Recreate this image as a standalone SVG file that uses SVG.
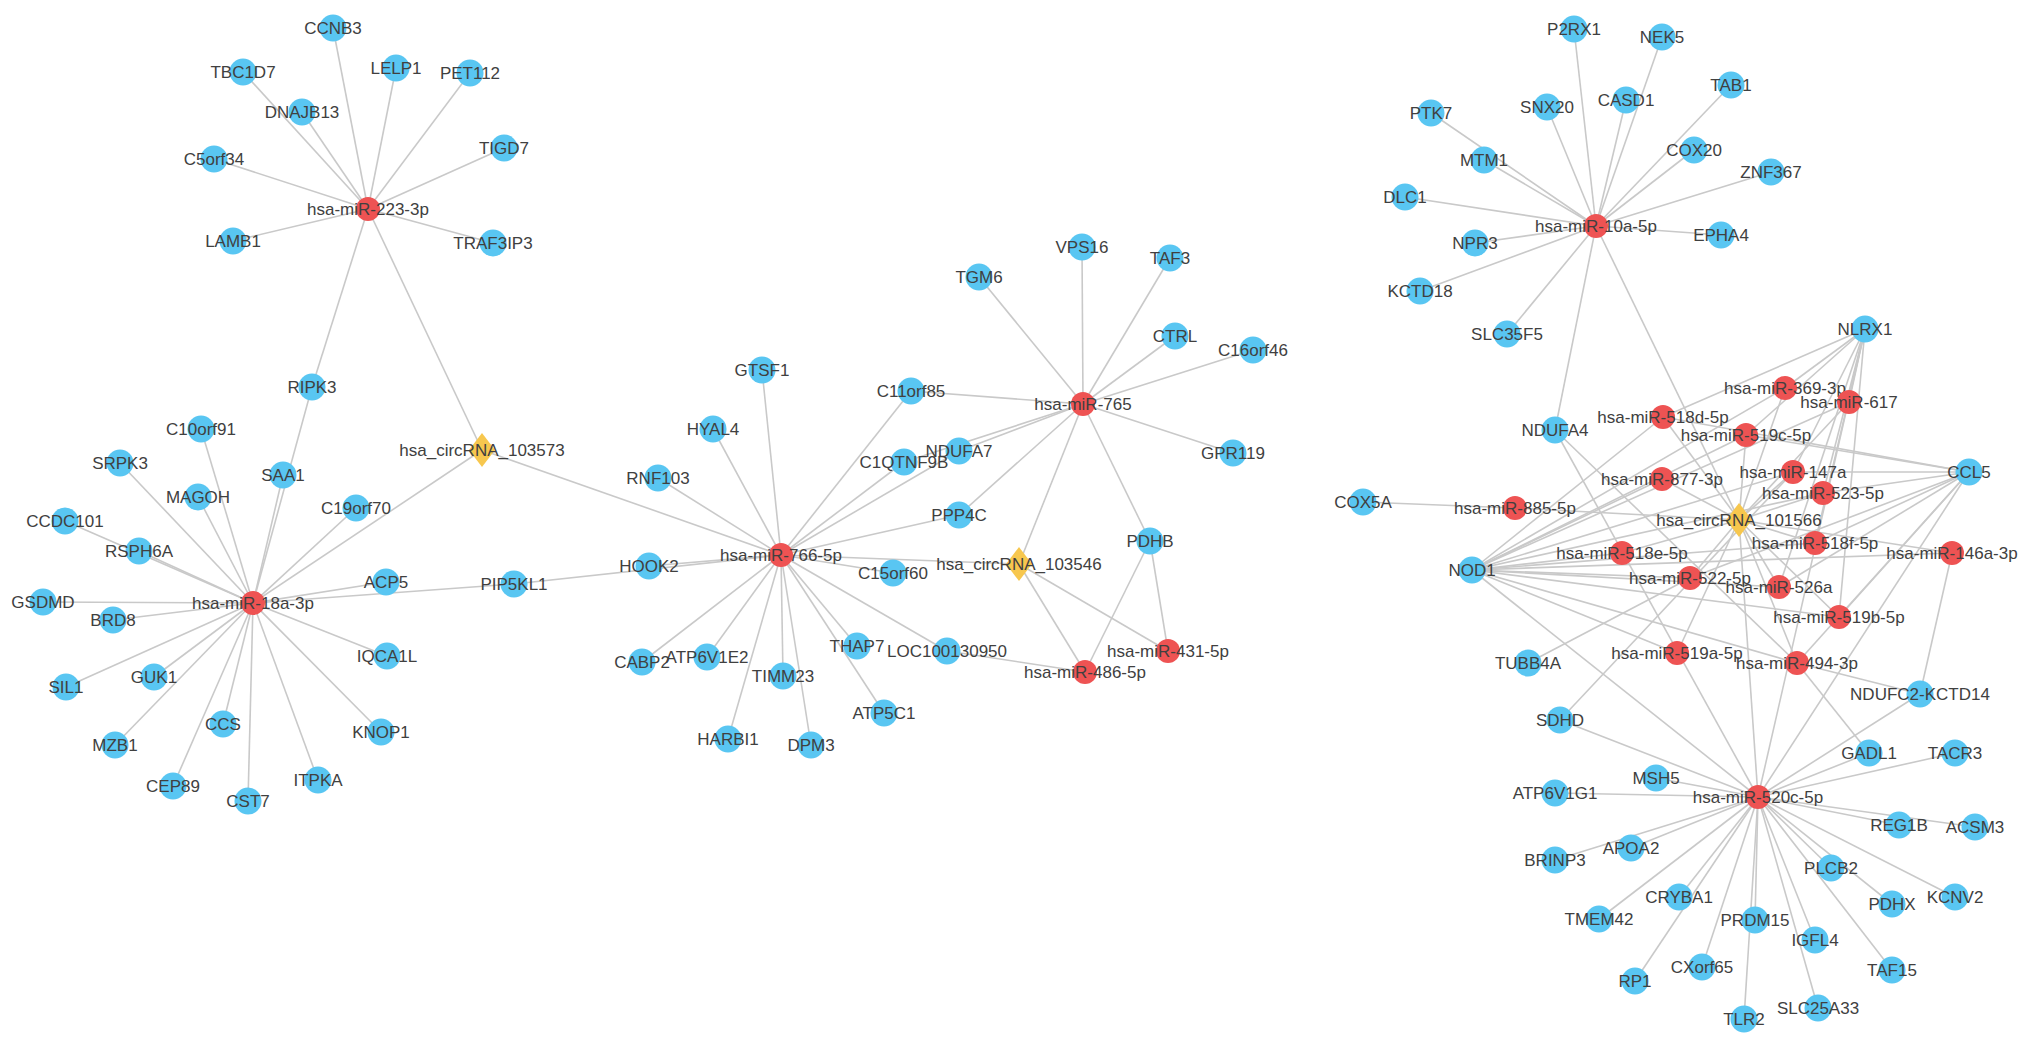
<svg xmlns="http://www.w3.org/2000/svg" xmlns:xlink="http://www.w3.org/1999/xlink" width="2032" height="1048" viewBox="0 0 2032 1048">
<style>
.e line{stroke:#c9c9c9;stroke-width:1.6}
.g{fill:#59c6f2}
.m{fill:#ee5353}
.c{fill:#f7c74e}
text{font-family:"Liberation Sans",Arial,sans-serif;font-size:17px;fill:#404040;text-anchor:middle;dominant-baseline:central}
</style>
<defs><path id="dia" d="M0,-17L13,0L0,17L-13,0Z"/></defs>
<rect width="2032" height="1048" fill="#ffffff"/>
<g id="connectors" class="e">
<!-- miR-223-3p -->
<line x1="368" y1="209" x2="333" y2="28"/>
<line x1="368" y1="209" x2="243" y2="72"/>
<line x1="368" y1="209" x2="396" y2="68"/>
<line x1="368" y1="209" x2="470" y2="73"/>
<line x1="368" y1="209" x2="302" y2="112"/>
<line x1="368" y1="209" x2="504" y2="148"/>
<line x1="368" y1="209" x2="214" y2="159"/>
<line x1="368" y1="209" x2="233" y2="241"/>
<line x1="368" y1="209" x2="493" y2="243"/>
<line x1="368" y1="209" x2="312" y2="387"/>
<line x1="368" y1="209" x2="482" y2="450"/>
<!-- miR-18a-3p -->
<line x1="253" y1="603" x2="312" y2="387"/>
<line x1="253" y1="603" x2="201" y2="429"/>
<line x1="253" y1="603" x2="120" y2="463"/>
<line x1="253" y1="603" x2="283" y2="475"/>
<line x1="253" y1="603" x2="198" y2="497"/>
<line x1="253" y1="603" x2="356" y2="508"/>
<line x1="253" y1="603" x2="65" y2="521"/>
<line x1="253" y1="603" x2="139" y2="551"/>
<line x1="253" y1="603" x2="43" y2="602"/>
<line x1="253" y1="603" x2="113" y2="620"/>
<line x1="253" y1="603" x2="66" y2="687"/>
<line x1="253" y1="603" x2="154" y2="677"/>
<line x1="253" y1="603" x2="115" y2="745"/>
<line x1="253" y1="603" x2="223" y2="724"/>
<line x1="253" y1="603" x2="173" y2="786"/>
<line x1="253" y1="603" x2="248" y2="801"/>
<line x1="253" y1="603" x2="318" y2="780"/>
<line x1="253" y1="603" x2="381" y2="732"/>
<line x1="253" y1="603" x2="387" y2="656"/>
<line x1="253" y1="603" x2="386" y2="582"/>
<line x1="253" y1="603" x2="514" y2="584"/>
<line x1="253" y1="603" x2="482" y2="450"/>
<!-- miR-766-5p -->
<line x1="781" y1="555" x2="482" y2="450"/>
<line x1="781" y1="555" x2="514" y2="584"/>
<line x1="781" y1="555" x2="649" y2="566"/>
<line x1="781" y1="555" x2="658" y2="478"/>
<line x1="781" y1="555" x2="713" y2="429"/>
<line x1="781" y1="555" x2="762" y2="370"/>
<line x1="781" y1="555" x2="911" y2="391"/>
<line x1="781" y1="555" x2="904" y2="462"/>
<line x1="781" y1="555" x2="959" y2="451"/>
<line x1="781" y1="555" x2="959" y2="515"/>
<line x1="781" y1="555" x2="893" y2="573"/>
<line x1="781" y1="555" x2="1019" y2="564"/>
<line x1="781" y1="555" x2="947" y2="651"/>
<line x1="781" y1="555" x2="857" y2="646"/>
<line x1="781" y1="555" x2="884" y2="713"/>
<line x1="781" y1="555" x2="811" y2="745"/>
<line x1="781" y1="555" x2="783" y2="676"/>
<line x1="781" y1="555" x2="728" y2="739"/>
<line x1="781" y1="555" x2="707" y2="657"/>
<line x1="781" y1="555" x2="642" y2="662"/>
<!-- miR-765 -->
<line x1="1083" y1="404" x2="979" y2="277"/>
<line x1="1083" y1="404" x2="1082" y2="247"/>
<line x1="1083" y1="404" x2="1170" y2="258"/>
<line x1="1083" y1="404" x2="1175" y2="336"/>
<line x1="1083" y1="404" x2="1253" y2="350"/>
<line x1="1083" y1="404" x2="1233" y2="453"/>
<line x1="1083" y1="404" x2="1150" y2="541"/>
<line x1="1083" y1="404" x2="1019" y2="564"/>
<line x1="1083" y1="404" x2="959" y2="515"/>
<line x1="1083" y1="404" x2="959" y2="451"/>
<line x1="1083" y1="404" x2="904" y2="462"/>
<line x1="1083" y1="404" x2="911" y2="391"/>
<!-- miR-486-5p / miR-431-5p -->
<line x1="1085" y1="672" x2="947" y2="651"/>
<line x1="1085" y1="672" x2="1019" y2="564"/>
<line x1="1085" y1="672" x2="1150" y2="541"/>
<line x1="1168" y1="651" x2="1019" y2="564"/>
<line x1="1168" y1="651" x2="1150" y2="541"/>
<!-- miR-10a-5p -->
<line x1="1596" y1="226" x2="1574" y2="29"/>
<line x1="1596" y1="226" x2="1662" y2="37"/>
<line x1="1596" y1="226" x2="1731" y2="85"/>
<line x1="1596" y1="226" x2="1431" y2="113"/>
<line x1="1596" y1="226" x2="1547" y2="107"/>
<line x1="1596" y1="226" x2="1626" y2="100"/>
<line x1="1596" y1="226" x2="1484" y2="160"/>
<line x1="1596" y1="226" x2="1694" y2="150"/>
<line x1="1596" y1="226" x2="1771" y2="172"/>
<line x1="1596" y1="226" x2="1405" y2="197"/>
<line x1="1596" y1="226" x2="1721" y2="235"/>
<line x1="1596" y1="226" x2="1475" y2="243"/>
<line x1="1596" y1="226" x2="1420" y2="291"/>
<line x1="1596" y1="226" x2="1507" y2="334"/>
<line x1="1596" y1="226" x2="1555" y2="430"/>
<line x1="1596" y1="226" x2="1739" y2="520"/>
<!-- hsa_circRNA_101566 -->
<line x1="1739" y1="520" x2="1785" y2="388"/>
<line x1="1739" y1="520" x2="1849" y2="402"/>
<line x1="1739" y1="520" x2="1663" y2="417"/>
<line x1="1739" y1="520" x2="1746" y2="435"/>
<line x1="1739" y1="520" x2="1793" y2="472"/>
<line x1="1739" y1="520" x2="1662" y2="479"/>
<line x1="1739" y1="520" x2="1823" y2="493"/>
<line x1="1739" y1="520" x2="1515" y2="508"/>
<line x1="1739" y1="520" x2="1815" y2="543"/>
<line x1="1739" y1="520" x2="1952" y2="553"/>
<line x1="1739" y1="520" x2="1622" y2="553"/>
<line x1="1739" y1="520" x2="1690" y2="578"/>
<line x1="1739" y1="520" x2="1779" y2="587"/>
<line x1="1739" y1="520" x2="1839" y2="617"/>
<line x1="1739" y1="520" x2="1677" y2="653"/>
<line x1="1739" y1="520" x2="1797" y2="663"/>
<line x1="1739" y1="520" x2="1758" y2="797"/>
<!-- NLRX1 -->
<line x1="1865" y1="329" x2="1663" y2="417"/>
<line x1="1865" y1="329" x2="1785" y2="388"/>
<line x1="1865" y1="329" x2="1849" y2="402"/>
<line x1="1865" y1="329" x2="1746" y2="435"/>
<line x1="1865" y1="329" x2="1793" y2="472"/>
<line x1="1865" y1="329" x2="1823" y2="493"/>
<line x1="1865" y1="329" x2="1815" y2="543"/>
<line x1="1865" y1="329" x2="1779" y2="587"/>
<line x1="1865" y1="329" x2="1839" y2="617"/>
<line x1="1865" y1="329" x2="1758" y2="797"/>
<!-- CCL5 -->
<line x1="1969" y1="472" x2="1663" y2="417"/>
<line x1="1969" y1="472" x2="1746" y2="435"/>
<line x1="1969" y1="472" x2="1793" y2="472"/>
<line x1="1969" y1="472" x2="1823" y2="493"/>
<line x1="1969" y1="472" x2="1815" y2="543"/>
<line x1="1969" y1="472" x2="1779" y2="587"/>
<line x1="1969" y1="472" x2="1690" y2="578"/>
<line x1="1969" y1="472" x2="1839" y2="617"/>
<line x1="1969" y1="472" x2="1797" y2="663"/>
<line x1="1969" y1="472" x2="1758" y2="797"/>
<!-- NOD1 -->
<line x1="1472" y1="570" x2="1663" y2="417"/>
<line x1="1472" y1="570" x2="1785" y2="388"/>
<line x1="1472" y1="570" x2="1746" y2="435"/>
<line x1="1472" y1="570" x2="1662" y2="479"/>
<line x1="1472" y1="570" x2="1849" y2="402"/>
<line x1="1472" y1="570" x2="1793" y2="472"/>
<line x1="1472" y1="570" x2="1823" y2="493"/>
<line x1="1472" y1="570" x2="1622" y2="553"/>
<line x1="1472" y1="570" x2="1815" y2="543"/>
<line x1="1472" y1="570" x2="1690" y2="578"/>
<line x1="1472" y1="570" x2="1779" y2="587"/>
<line x1="1472" y1="570" x2="1839" y2="617"/>
<line x1="1472" y1="570" x2="1952" y2="553"/>
<line x1="1472" y1="570" x2="1677" y2="653"/>
<line x1="1472" y1="570" x2="1797" y2="663"/>
<line x1="1472" y1="570" x2="1758" y2="797"/>
<!-- other genes in right cluster -->
<line x1="1555" y1="430" x2="1797" y2="663"/>
<line x1="1555" y1="430" x2="1758" y2="797"/>
<line x1="1363" y1="502" x2="1515" y2="508"/>
<line x1="1528" y1="663" x2="1690" y2="578"/>
<line x1="1560" y1="720" x2="1793" y2="472"/>
<line x1="1560" y1="720" x2="1758" y2="797"/>
<line x1="1920" y1="694" x2="1952" y2="553"/>
<line x1="1920" y1="694" x2="1797" y2="663"/>
<line x1="1920" y1="694" x2="1758" y2="797"/>
<line x1="1869" y1="753" x2="1797" y2="663"/>
<!-- miR-520c-5p -->
<line x1="1758" y1="797" x2="1869" y2="753"/>
<line x1="1758" y1="797" x2="1955" y2="753"/>
<line x1="1758" y1="797" x2="1656" y2="778"/>
<line x1="1758" y1="797" x2="1555" y2="793"/>
<line x1="1758" y1="797" x2="1899" y2="825"/>
<line x1="1758" y1="797" x2="1975" y2="827"/>
<line x1="1758" y1="797" x2="1631" y2="848"/>
<line x1="1758" y1="797" x2="1555" y2="860"/>
<line x1="1758" y1="797" x2="1831" y2="868"/>
<line x1="1758" y1="797" x2="1679" y2="897"/>
<line x1="1758" y1="797" x2="1955" y2="897"/>
<line x1="1758" y1="797" x2="1892" y2="904"/>
<line x1="1758" y1="797" x2="1599" y2="919"/>
<line x1="1758" y1="797" x2="1755" y2="920"/>
<line x1="1758" y1="797" x2="1815" y2="940"/>
<line x1="1758" y1="797" x2="1892" y2="970"/>
<line x1="1758" y1="797" x2="1702" y2="967"/>
<line x1="1758" y1="797" x2="1635" y2="981"/>
<line x1="1758" y1="797" x2="1818" y2="1008"/>
<line x1="1758" y1="797" x2="1744" y2="1019"/>
</g>
<g id="nodes">
<!-- left top cluster -->
<g id="CCNB3"><circle class="g" cx="333" cy="28" r="13.5"/><text x="333" y="28">CCNB3</text></g>
<g id="TBC1D7"><circle class="g" cx="243" cy="72" r="13.5"/><text x="243" y="72">TBC1D7</text></g>
<g id="LELP1"><circle class="g" cx="396" cy="68" r="13.5"/><text x="396" y="68">LELP1</text></g>
<g id="PET112"><circle class="g" cx="470" cy="73" r="13.5"/><text x="470" y="73">PET112</text></g>
<g id="DNAJB13"><circle class="g" cx="302" cy="112" r="13.5"/><text x="302" y="112">DNAJB13</text></g>
<g id="TIGD7"><circle class="g" cx="504" cy="148" r="13.5"/><text x="504" y="148">TIGD7</text></g>
<g id="C5orf34"><circle class="g" cx="214" cy="159" r="13.5"/><text x="214" y="159">C5orf34</text></g>
<g id="LAMB1"><circle class="g" cx="233" cy="241" r="13.5"/><text x="233" y="241">LAMB1</text></g>
<g id="TRAF3IP3"><circle class="g" cx="493" cy="243" r="13.5"/><text x="493" y="243">TRAF3IP3</text></g>
<g id="hsa-miR-223-3p"><circle class="m" cx="368" cy="209" r="12"/><text x="368" y="209">hsa-miR-223-3p</text></g>
<g id="RIPK3"><circle class="g" cx="312" cy="387" r="13.5"/><text x="312" y="387">RIPK3</text></g>
<!-- left bottom cluster -->
<g id="C10orf91"><circle class="g" cx="201" cy="429" r="13.5"/><text x="201" y="429">C10orf91</text></g>
<g id="SRPK3"><circle class="g" cx="120" cy="463" r="13.5"/><text x="120" y="463">SRPK3</text></g>
<g id="SAA1"><circle class="g" cx="283" cy="475" r="13.5"/><text x="283" y="475">SAA1</text></g>
<g id="MAGOH"><circle class="g" cx="198" cy="497" r="13.5"/><text x="198" y="497">MAGOH</text></g>
<g id="C19orf70"><circle class="g" cx="356" cy="508" r="13.5"/><text x="356" y="508">C19orf70</text></g>
<g id="CCDC101"><circle class="g" cx="65" cy="521" r="13.5"/><text x="65" y="521">CCDC101</text></g>
<g id="RSPH6A"><circle class="g" cx="139" cy="551" r="13.5"/><text x="139" y="551">RSPH6A</text></g>
<g id="ACP5"><circle class="g" cx="386" cy="582" r="13.5"/><text x="386" y="582">ACP5</text></g>
<g id="PIP5KL1"><circle class="g" cx="514" cy="584" r="13.5"/><text x="514" y="584">PIP5KL1</text></g>
<g id="GSDMD"><circle class="g" cx="43" cy="602" r="13.5"/><text x="43" y="602">GSDMD</text></g>
<g id="BRD8"><circle class="g" cx="113" cy="620" r="13.5"/><text x="113" y="620">BRD8</text></g>
<g id="IQCA1L"><circle class="g" cx="387" cy="656" r="13.5"/><text x="387" y="656">IQCA1L</text></g>
<g id="GUK1"><circle class="g" cx="154" cy="677" r="13.5"/><text x="154" y="677">GUK1</text></g>
<g id="SIL1"><circle class="g" cx="66" cy="687" r="13.5"/><text x="66" y="687">SIL1</text></g>
<g id="CCS"><circle class="g" cx="223" cy="724" r="13.5"/><text x="223" y="724">CCS</text></g>
<g id="KNOP1"><circle class="g" cx="381" cy="732" r="13.5"/><text x="381" y="732">KNOP1</text></g>
<g id="MZB1"><circle class="g" cx="115" cy="745" r="13.5"/><text x="115" y="745">MZB1</text></g>
<g id="CEP89"><circle class="g" cx="173" cy="786" r="13.5"/><text x="173" y="786">CEP89</text></g>
<g id="ITPKA"><circle class="g" cx="318" cy="780" r="13.5"/><text x="318" y="780">ITPKA</text></g>
<g id="CST7"><circle class="g" cx="248" cy="801" r="13.5"/><text x="248" y="801">CST7</text></g>
<g id="hsa-miR-18a-3p"><circle class="m" cx="253" cy="603" r="12"/><text x="253" y="603">hsa-miR-18a-3p</text></g>
<g id="hsa_circRNA_103573"><use xlink:href="#dia" class="c" x="482" y="450"/><text x="482" y="450">hsa_circRNA_103573</text></g>
<!-- middle cluster -->
<g id="GTSF1"><circle class="g" cx="762" cy="370" r="13.5"/><text x="762" y="370">GTSF1</text></g>
<g id="HYAL4"><circle class="g" cx="713" cy="429" r="13.5"/><text x="713" y="429">HYAL4</text></g>
<g id="RNF103"><circle class="g" cx="658" cy="478" r="13.5"/><text x="658" y="478">RNF103</text></g>
<g id="HOOK2"><circle class="g" cx="649" cy="566" r="13.5"/><text x="649" y="566">HOOK2</text></g>
<g id="C11orf85"><circle class="g" cx="911" cy="391" r="13.5"/><text x="911" y="391">C11orf85</text></g>
<g id="C1QTNF9B"><circle class="g" cx="904" cy="462" r="13.5"/><text x="904" y="462">C1QTNF9B</text></g>
<g id="NDUFA7"><circle class="g" cx="959" cy="451" r="13.5"/><text x="959" y="451">NDUFA7</text></g>
<g id="PPP4C"><circle class="g" cx="959" cy="515" r="13.5"/><text x="959" y="515">PPP4C</text></g>
<g id="C15orf60"><circle class="g" cx="893" cy="573" r="13.5"/><text x="893" y="573">C15orf60</text></g>
<g id="CABP2"><circle class="g" cx="642" cy="662" r="13.5"/><text x="642" y="662">CABP2</text></g>
<g id="ATP6V1E2"><circle class="g" cx="707" cy="657" r="13.5"/><text x="707" y="657">ATP6V1E2</text></g>
<g id="TIMM23"><circle class="g" cx="783" cy="676" r="13.5"/><text x="783" y="676">TIMM23</text></g>
<g id="THAP7"><circle class="g" cx="857" cy="646" r="13.5"/><text x="857" y="646">THAP7</text></g>
<g id="LOC100130950"><circle class="g" cx="947" cy="651" r="13.5"/><text x="947" y="651">LOC100130950</text></g>
<g id="ATP5C1"><circle class="g" cx="884" cy="713" r="13.5"/><text x="884" y="713">ATP5C1</text></g>
<g id="HARBI1"><circle class="g" cx="728" cy="739" r="13.5"/><text x="728" y="739">HARBI1</text></g>
<g id="DPM3"><circle class="g" cx="811" cy="745" r="13.5"/><text x="811" y="745">DPM3</text></g>
<g id="hsa-miR-766-5p"><circle class="m" cx="781" cy="555" r="12"/><text x="781" y="555">hsa-miR-766-5p</text></g>
<g id="TGM6"><circle class="g" cx="979" cy="277" r="13.5"/><text x="979" y="277">TGM6</text></g>
<g id="VPS16"><circle class="g" cx="1082" cy="247" r="13.5"/><text x="1082" y="247">VPS16</text></g>
<g id="TAF3"><circle class="g" cx="1170" cy="258" r="13.5"/><text x="1170" y="258">TAF3</text></g>
<g id="CTRL"><circle class="g" cx="1175" cy="336" r="13.5"/><text x="1175" y="336">CTRL</text></g>
<g id="C16orf46"><circle class="g" cx="1253" cy="350" r="13.5"/><text x="1253" y="350">C16orf46</text></g>
<g id="GPR119"><circle class="g" cx="1233" cy="453" r="13.5"/><text x="1233" y="453">GPR119</text></g>
<g id="PDHB"><circle class="g" cx="1150" cy="541" r="13.5"/><text x="1150" y="541">PDHB</text></g>
<g id="hsa-miR-765"><circle class="m" cx="1083" cy="404" r="12"/><text x="1083" y="404">hsa-miR-765</text></g>
<g id="hsa_circRNA_103546"><use xlink:href="#dia" class="c" x="1019" y="564"/><text x="1019" y="564">hsa_circRNA_103546</text></g>
<g id="hsa-miR-486-5p"><circle class="m" cx="1085" cy="672" r="12"/><text x="1085" y="672">hsa-miR-486-5p</text></g>
<g id="hsa-miR-431-5p"><circle class="m" cx="1168" cy="651" r="12"/><text x="1168" y="651">hsa-miR-431-5p</text></g>
<!-- top right cluster -->
<g id="P2RX1"><circle class="g" cx="1574" cy="29" r="13.5"/><text x="1574" y="29">P2RX1</text></g>
<g id="NEK5"><circle class="g" cx="1662" cy="37" r="13.5"/><text x="1662" y="37">NEK5</text></g>
<g id="TAB1"><circle class="g" cx="1731" cy="85" r="13.5"/><text x="1731" y="85">TAB1</text></g>
<g id="PTK7"><circle class="g" cx="1431" cy="113" r="13.5"/><text x="1431" y="113">PTK7</text></g>
<g id="SNX20"><circle class="g" cx="1547" cy="107" r="13.5"/><text x="1547" y="107">SNX20</text></g>
<g id="CASD1"><circle class="g" cx="1626" cy="100" r="13.5"/><text x="1626" y="100">CASD1</text></g>
<g id="MTM1"><circle class="g" cx="1484" cy="160" r="13.5"/><text x="1484" y="160">MTM1</text></g>
<g id="COX20"><circle class="g" cx="1694" cy="150" r="13.5"/><text x="1694" y="150">COX20</text></g>
<g id="ZNF367"><circle class="g" cx="1771" cy="172" r="13.5"/><text x="1771" y="172">ZNF367</text></g>
<g id="DLC1"><circle class="g" cx="1405" cy="197" r="13.5"/><text x="1405" y="197">DLC1</text></g>
<g id="EPHA4"><circle class="g" cx="1721" cy="235" r="13.5"/><text x="1721" y="235">EPHA4</text></g>
<g id="NPR3"><circle class="g" cx="1475" cy="243" r="13.5"/><text x="1475" y="243">NPR3</text></g>
<g id="KCTD18"><circle class="g" cx="1420" cy="291" r="13.5"/><text x="1420" y="291">KCTD18</text></g>
<g id="SLC35F5"><circle class="g" cx="1507" cy="334" r="13.5"/><text x="1507" y="334">SLC35F5</text></g>
<g id="hsa-miR-10a-5p"><circle class="m" cx="1596" cy="226" r="12"/><text x="1596" y="226">hsa-miR-10a-5p</text></g>
<!-- right dense cluster -->
<g id="NLRX1"><circle class="g" cx="1865" cy="329" r="13.5"/><text x="1865" y="329">NLRX1</text></g>
<g id="NDUFA4"><circle class="g" cx="1555" cy="430" r="13.5"/><text x="1555" y="430">NDUFA4</text></g>
<g id="CCL5"><circle class="g" cx="1969" cy="472" r="13.5"/><text x="1969" y="472">CCL5</text></g>
<g id="COX5A"><circle class="g" cx="1363" cy="502" r="13.5"/><text x="1363" y="502">COX5A</text></g>
<g id="NOD1"><circle class="g" cx="1472" cy="570" r="13.5"/><text x="1472" y="570">NOD1</text></g>
<g id="TUBB4A"><circle class="g" cx="1528" cy="663" r="13.5"/><text x="1528" y="663">TUBB4A</text></g>
<g id="NDUFC2-KCTD14"><circle class="g" cx="1920" cy="694" r="13.5"/><text x="1920" y="694">NDUFC2-KCTD14</text></g>
<g id="SDHD"><circle class="g" cx="1560" cy="720" r="13.5"/><text x="1560" y="720">SDHD</text></g>
<g id="hsa-miR-369-3p"><circle class="m" cx="1785" cy="388" r="12"/><text x="1785" y="388">hsa-miR-369-3p</text></g>
<g id="hsa-miR-617"><circle class="m" cx="1849" cy="402" r="12"/><text x="1849" y="402">hsa-miR-617</text></g>
<g id="hsa-miR-518d-5p"><circle class="m" cx="1663" cy="417" r="12"/><text x="1663" y="417">hsa-miR-518d-5p</text></g>
<g id="hsa-miR-519c-5p"><circle class="m" cx="1746" cy="435" r="12"/><text x="1746" y="435">hsa-miR-519c-5p</text></g>
<g id="hsa-miR-147a"><circle class="m" cx="1793" cy="472" r="12"/><text x="1793" y="472">hsa-miR-147a</text></g>
<g id="hsa-miR-877-3p"><circle class="m" cx="1662" cy="479" r="12"/><text x="1662" y="479">hsa-miR-877-3p</text></g>
<g id="hsa-miR-523-5p"><circle class="m" cx="1823" cy="493" r="12"/><text x="1823" y="493">hsa-miR-523-5p</text></g>
<g id="hsa-miR-885-5p"><circle class="m" cx="1515" cy="508" r="12"/><text x="1515" y="508">hsa-miR-885-5p</text></g>
<g id="hsa_circRNA_101566"><use xlink:href="#dia" class="c" x="1739" y="520"/><text x="1739" y="520">hsa_circRNA_101566</text></g>
<g id="hsa-miR-518f-5p"><circle class="m" cx="1815" cy="543" r="12"/><text x="1815" y="543">hsa-miR-518f-5p</text></g>
<g id="hsa-miR-146a-3p"><circle class="m" cx="1952" cy="553" r="12"/><text x="1952" y="553">hsa-miR-146a-3p</text></g>
<g id="hsa-miR-518e-5p"><circle class="m" cx="1622" cy="553" r="12"/><text x="1622" y="553">hsa-miR-518e-5p</text></g>
<g id="hsa-miR-522-5p"><circle class="m" cx="1690" cy="578" r="12"/><text x="1690" y="578">hsa-miR-522-5p</text></g>
<g id="hsa-miR-526a"><circle class="m" cx="1779" cy="587" r="12"/><text x="1779" y="587">hsa-miR-526a</text></g>
<g id="hsa-miR-519b-5p"><circle class="m" cx="1839" cy="617" r="12"/><text x="1839" y="617">hsa-miR-519b-5p</text></g>
<g id="hsa-miR-519a-5p"><circle class="m" cx="1677" cy="653" r="12"/><text x="1677" y="653">hsa-miR-519a-5p</text></g>
<g id="hsa-miR-494-3p"><circle class="m" cx="1797" cy="663" r="12"/><text x="1797" y="663">hsa-miR-494-3p</text></g>
<!-- bottom right cluster -->
<g id="GADL1"><circle class="g" cx="1869" cy="753" r="13.5"/><text x="1869" y="753">GADL1</text></g>
<g id="TACR3"><circle class="g" cx="1955" cy="753" r="13.5"/><text x="1955" y="753">TACR3</text></g>
<g id="MSH5"><circle class="g" cx="1656" cy="778" r="13.5"/><text x="1656" y="778">MSH5</text></g>
<g id="ATP6V1G1"><circle class="g" cx="1555" cy="793" r="13.5"/><text x="1555" y="793">ATP6V1G1</text></g>
<g id="REG1B"><circle class="g" cx="1899" cy="825" r="13.5"/><text x="1899" y="825">REG1B</text></g>
<g id="ACSM3"><circle class="g" cx="1975" cy="827" r="13.5"/><text x="1975" y="827">ACSM3</text></g>
<g id="APOA2"><circle class="g" cx="1631" cy="848" r="13.5"/><text x="1631" y="848">APOA2</text></g>
<g id="BRINP3"><circle class="g" cx="1555" cy="860" r="13.5"/><text x="1555" y="860">BRINP3</text></g>
<g id="PLCB2"><circle class="g" cx="1831" cy="868" r="13.5"/><text x="1831" y="868">PLCB2</text></g>
<g id="CRYBA1"><circle class="g" cx="1679" cy="897" r="13.5"/><text x="1679" y="897">CRYBA1</text></g>
<g id="KCNV2"><circle class="g" cx="1955" cy="897" r="13.5"/><text x="1955" y="897">KCNV2</text></g>
<g id="PDHX"><circle class="g" cx="1892" cy="904" r="13.5"/><text x="1892" y="904">PDHX</text></g>
<g id="TMEM42"><circle class="g" cx="1599" cy="919" r="13.5"/><text x="1599" y="919">TMEM42</text></g>
<g id="PRDM15"><circle class="g" cx="1755" cy="920" r="13.5"/><text x="1755" y="920">PRDM15</text></g>
<g id="IGFL4"><circle class="g" cx="1815" cy="940" r="13.5"/><text x="1815" y="940">IGFL4</text></g>
<g id="TAF15"><circle class="g" cx="1892" cy="970" r="13.5"/><text x="1892" y="970">TAF15</text></g>
<g id="CXorf65"><circle class="g" cx="1702" cy="967" r="13.5"/><text x="1702" y="967">CXorf65</text></g>
<g id="RP1"><circle class="g" cx="1635" cy="981" r="13.5"/><text x="1635" y="981">RP1</text></g>
<g id="SLC25A33"><circle class="g" cx="1818" cy="1008" r="13.5"/><text x="1818" y="1008">SLC25A33</text></g>
<g id="TLR2"><circle class="g" cx="1744" cy="1019" r="13.5"/><text x="1744" y="1019">TLR2</text></g>
<g id="hsa-miR-520c-5p"><circle class="m" cx="1758" cy="797" r="12"/><text x="1758" y="797">hsa-miR-520c-5p</text></g>
</g>
</svg>
